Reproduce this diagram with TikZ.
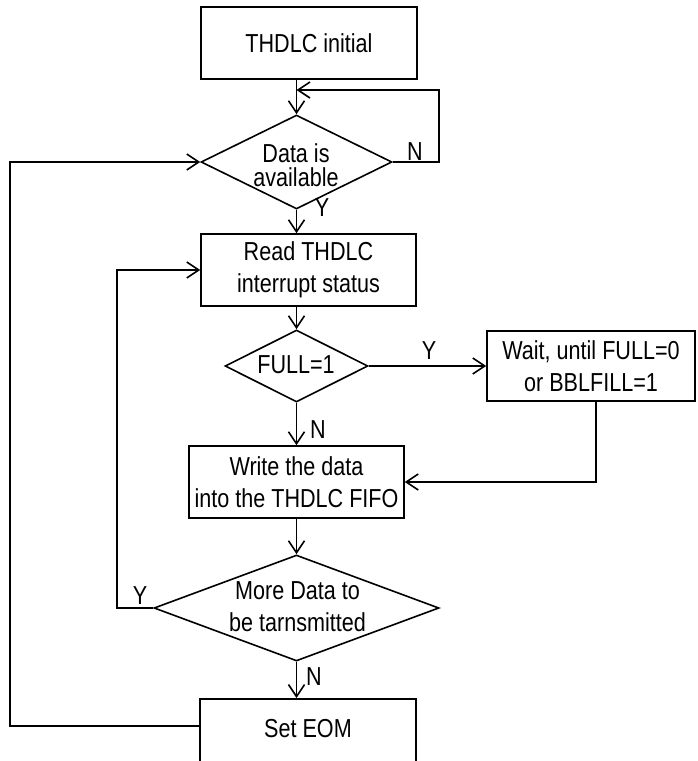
\documentclass[tikz,border=0pt]{standalone}
\usepackage{fontspec}
\setmainfont{Liberation Sans}[FakeStretch=0.83]
\usetikzlibrary{shapes.geometric,arrows.meta}
\begin{document}
\begin{tikzpicture}[x=1pt,y=-1pt,
  every node/.style={font=\fontsize{26}{32}\selectfont},
  box/.style={draw,line width=1.6pt,rectangle,inner sep=0pt,align=center},
  dia/.style={draw,line width=1.6pt,diamond,inner sep=0pt},
  txt/.style={align=center,inner sep=0pt},
  lbl/.style={inner sep=0pt},
  arr/.style={line width=1.6pt,-{Straight Barb[length=12pt,width=16pt]}},
  ln/.style={line width=1.6pt}]
\useasboundingbox (0,0) rectangle (697,761);
\clip (0,0) rectangle (697,761);
% boxes
\node[box,minimum width=216,minimum height=72] (init) at (309,43) {THDLC initial};
\node[dia,minimum width=191,minimum height=94] (avail) at (296.5,162) {};
\node[txt,font=\fontsize{26}{24}\selectfont] (availtxt) at (296,165.5) {Data is\\available};
\node[box,minimum width=215,minimum height=72] (read) at (308.5,270) {Read THDLC\\interrupt status};
\node[dia,minimum width=143,minimum height=72] (full) at (296.5,366) {};
\node[txt] (fulltxt) at (296,365) {FULL=1};
\node[box,minimum width=208,minimum height=70] (wait) at (591,366) {Wait, until FULL=0\\or BBLFILL=1};
\node[box,minimum width=215,minimum height=72] (write) at (296.5,482) {Write the data\\into the THDLC FIFO};
\node[dia,minimum width=285,minimum height=106] (more) at (296.5,608) {};
\node[txt] (moretxt) at (297.5,606.5) {More Data to\\be tarnsmitted};
\node[box,minimum width=216,minimum height=80,anchor=north] (eom) at (308,698) {};
\node[txt] (eomtxt) at (308,729) {Set EOM};
% helper coordinates
\coordinate (loopR) at (439,90);
\coordinate (leftY) at (117,0);
\coordinate (farL) at (10,0);
% connectors
\draw[arr] (init.south -| avail.north) -- (avail.north);
\draw[arr] (avail.east) -| (loopR) -- (loopR -| avail.north);
\draw[arr] (avail.south) -- (avail.south |- read.north);
\draw[arr] (read.south -| full.north) -- (full.north);
\draw[arr] (full.east) -- (wait.west);
\draw[arr] (full.south) -- (full.south |- write.north);
\draw[arr] ([xshift=5pt]wait.south) |- (write.east);
\draw[arr] (write.south) -- (more.north);
\draw[arr] (more.west) -- (more.west -| leftY) |- (read.west);
\draw[arr] (more.south) -- (more.south |- eom.north);
\draw[arr] ([yshift=-28pt]eom.north west) -| (farL |- avail.west) -- (avail.west);
% labels
\node[lbl] (lN1) at (415,152) {N};
\node[lbl] (lY1) at (322,208) {Y};
\node[lbl] (lY2) at (429,351) {Y};
\node[lbl] (lN2) at (318,430) {N};
\node[lbl] (lY3) at (140,596) {Y};
\node[lbl] (lN3) at (314,677) {N};
\end{tikzpicture}
\end{document}
